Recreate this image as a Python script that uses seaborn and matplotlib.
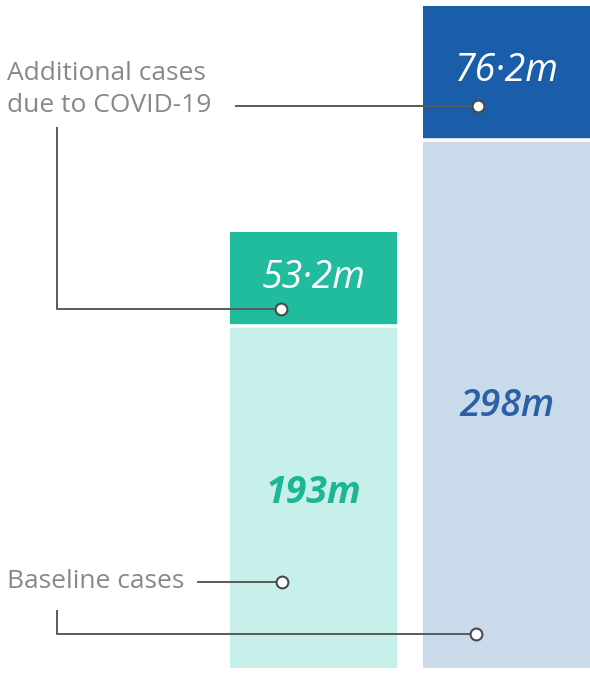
import matplotlib
matplotlib.use("Agg")
import matplotlib.pyplot as plt
import seaborn as sns
import pandas as pd

# Cases (millions)
groups = ["Group A", "Group B"]
baseline = [193, 298]
additional = [53.2, 76.2]
baseline_labels = ["193m", "298m"]
additional_labels = ["53·2m", "76·2m"]

dark_colors = ["#21BC9E", "#1A5EAA"]
light_colors = ["#C8F0EB", "#C9DAEA"]
baseline_text_colors = ["#1DB596", "#2B5FA6"]

sns.set_theme(style="white")
plt.rcParams["font.family"] = ["Open Sans", "DejaVu Sans"]

W, H, DPI = 590, 674, 100
fig = plt.figure(figsize=(W / DPI, H / DPI), dpi=DPI)
fig.patch.set_facecolor("white")

ax = fig.add_axes([0, 0, 1, 1])
ax.set_facecolor("white")

df = pd.DataFrame({
    "group": groups,
    "baseline": baseline,
    "total": [b + a for b, a in zip(baseline, additional)],
})

bw = 0.865
sns.barplot(data=df, x="group", y="total", hue="group", palette=dark_colors,
            width=bw, legend=False, ax=ax, saturation=1, linewidth=0)
sns.barplot(data=df, x="group", y="baseline", hue="group", palette=light_colors,
            width=bw, legend=False, ax=ax, saturation=1, linewidth=0)

# white gap between the two segments
for i, b in enumerate(baseline):
    ax.hlines(b + 0.2, i - bw / 2, i + bw / 2, color="white", lw=2.6, zorder=5)

px = 1.77  # pixels per million
ax.set_xlim(-1.625, 1.43)
ax.set_ylim(-6 / px, (H - 6) / px)
ax.axis("off")

# value labels
label_offsets = [26, 37]
for i in range(len(groups)):
    top = baseline[i] + additional[i]
    ax.text(i, top - label_offsets[i], additional_labels[i], ha="center",
            va="center", color="white", fontsize=27, style="italic",
            fontweight="medium", zorder=6)
ax.text(0, 99, baseline_labels[0], ha="center", va="center",
        color=baseline_text_colors[0], fontsize=27, style="italic",
        fontweight="bold", zorder=6)
ax.text(1, 148, baseline_labels[1], ha="center", va="center",
        color=baseline_text_colors[1], fontsize=27, style="italic",
        fontweight="semibold", zorder=6)

# callouts drawn in pixel space
ov = fig.add_axes([0, 0, 1, 1], facecolor="none")
ov.set_xlim(0, W)
ov.set_ylim(H, 0)
ov.axis("off")

line_kw = dict(color="#5a5a5a", lw=1.4, solid_capstyle="butt", zorder=7)
dot_kw = dict(marker="o", ms=8.5, mfc="white", mec="#4a4a4a", mew=1.5,
              ls="none", zorder=8)
txt_kw = dict(color="#888888", fontsize=19, ha="left", va="center")

ov.text(7, 74, "Additional cases", **txt_kw)
ov.text(7, 106, "due to COVID-19", **txt_kw)
ov.plot([235, 478], [106, 106], **line_kw)
ov.plot([478], [106], **dot_kw)
ov.plot([57, 57, 281], [127, 309, 309], **line_kw)
ov.plot([281], [309], **dot_kw)

ov.text(7, 581, "Baseline cases", **txt_kw)
ov.plot([197, 282], [582, 582], **line_kw)
ov.plot([282], [582], **dot_kw)
ov.plot([57, 57, 476], [610, 634, 634], **line_kw)
ov.plot([476], [634], **dot_kw)

fig.savefig("out.png", dpi=DPI, facecolor="white")
